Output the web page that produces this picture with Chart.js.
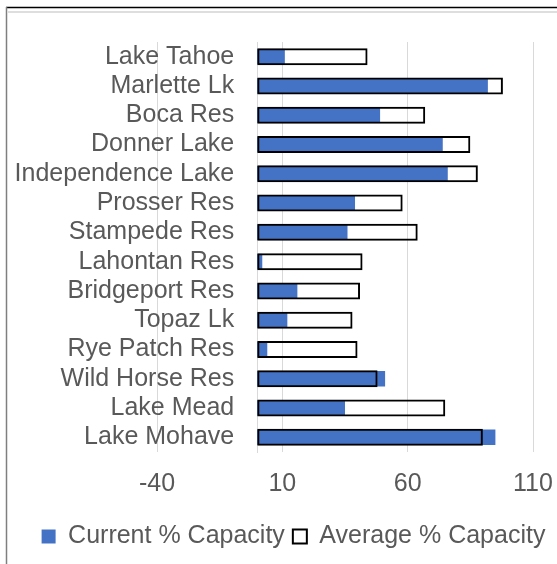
<!DOCTYPE html>
<html lang="en">
<head>
<meta charset="UTF-8">
<title>Reservoir % Capacity</title>
<script src="https://cdn.jsdelivr.net/npm/chart.js"></script>
<style>
  html, body { margin: 0; padding: 0; background: #fff; }
</style>
</head>
<body>
<canvas id="capChart" width="557" height="564"></canvas>

<script>
  const lakes = [
    'Lake Tahoe', 'Marlette Lk', 'Boca Res', 'Donner Lake', 'Independence Lake',
    'Prosser Res', 'Stampede Res', 'Lahontan Res', 'Bridgeport Res', 'Topaz Lk',
    'Rye Patch Res', 'Wild Horse Res', 'Lake Mead', 'Lake Mohave'
  ];
  const currentPct = [11, 92, 49, 74, 76, 39, 36, 2, 16, 12, 4, 51, 35, 95];
  const averagePct = [44, 98, 67, 85, 88, 58, 64, 42, 41, 38, 40, 48, 75, 90];
  const xTicks = [-40, 10, 60, 110];

  const textColor = '#595959';
  const gridColor = '#d9d9d9';
  const font = { family: "'Liberation Sans', Arial, sans-serif", size: 25 };

  // thin border lines of the original chart frame
  const frame = {
    id: 'frame',
    beforeDraw(chart) {
      const c = chart.ctx;
      c.save();
      c.fillStyle = '#fff';
      c.fillRect(0, 0, chart.width, chart.height);
      c.strokeStyle = '#000';
      c.lineWidth = 1.5;
      c.beginPath(); c.moveTo(6, 7.5); c.lineTo(chart.width, 7.5); c.stroke();
      c.strokeStyle = '#dedede';
      c.lineWidth = 2;
      c.beginPath(); c.moveTo(8, 12); c.lineTo(chart.width, 12); c.stroke();
      c.strokeStyle = '#7f7f7f';
      c.lineWidth = 1.5;
      c.beginPath(); c.moveTo(6.5, 7); c.lineTo(6.5, chart.height); c.stroke();
      c.restore();
    }
  };

  // empty axes that only hold space at the sides
  const spacer = (pos, w) => ({
    type: 'linear',
    axis: 'y',
    position: pos,
    display: true,
    grid: { display: false },
    border: { display: false },
    ticks: { display: false },
    afterFit: s => { s.width = w; }
  });

  const ctx = document.getElementById('capChart').getContext('2d');
  new Chart(ctx, {
    type: 'bar',
    data: {
      labels: lakes,
      datasets: [
        {
          label: 'Current % Capacity',
          data: currentPct,
          backgroundColor: '#4472C4',
          borderWidth: 0,
          grouped: false,
          categoryPercentage: 1,
          barPercentage: 0.53,
          order: 1
        },
        {
          label: 'Average % Capacity',
          data: averagePct,
          backgroundColor: 'rgba(255,255,255,0)',
          borderColor: '#000',
          borderWidth: 2,
          borderSkipped: false,
          grouped: false,
          categoryPercentage: 1,
          barPercentage: 0.58,
          order: 0
        }
      ]
    },
    options: {
      indexAxis: 'y',
      responsive: false,
      animation: false,
      layout: { padding: { top: 42, left: 30, right: 0, bottom: 5 } },
      scales: {
        x: {
          type: 'linear',
          min: -40,
          max: 110,
          afterBuildTicks: s => { s.ticks = xTicks.map(v => ({ value: v })); },
          grid: { color: gridColor, lineWidth: 1, drawTicks: true, tickLength: 17, tickColor: 'rgba(0,0,0,0)' },
          border: { display: false },
          ticks: { color: textColor, font: font, padding: 0, maxRotation: 0, autoSkip: false },
          afterFit: s => { s.height = 64; }
        },
        y: {
          type: 'category',
          offset: true,
          position: { x: 0 },
          grid: { display: false, drawTicks: false },
          border: { color: gridColor, width: 1 },
          ticks: { display: false }
        },
        // category names sit left of the zero line, like Excel's "low" labels
        yLab: {
          type: 'category',
          axis: 'y',
          offset: true,
          position: { x: -9.2 },
          grid: { display: false, drawTicks: false },
          border: { display: false },
          ticks: { color: textColor, font: font, autoSkip: false }
        },
        padL: spacer('left', 127),
        padR: spacer('right', 24)
      },
      plugins: {
        legend: {
          position: 'bottom',
          labels: {
            color: textColor,
            font: font,
            boxWidth: 14,
            boxHeight: 14,
            padding: 8,
            sort: (a, b) => a.datasetIndex - b.datasetIndex
          }
        },
        tooltip: { enabled: false }
      }
    },
    plugins: [frame]
  });
</script>
</body>
</html>
